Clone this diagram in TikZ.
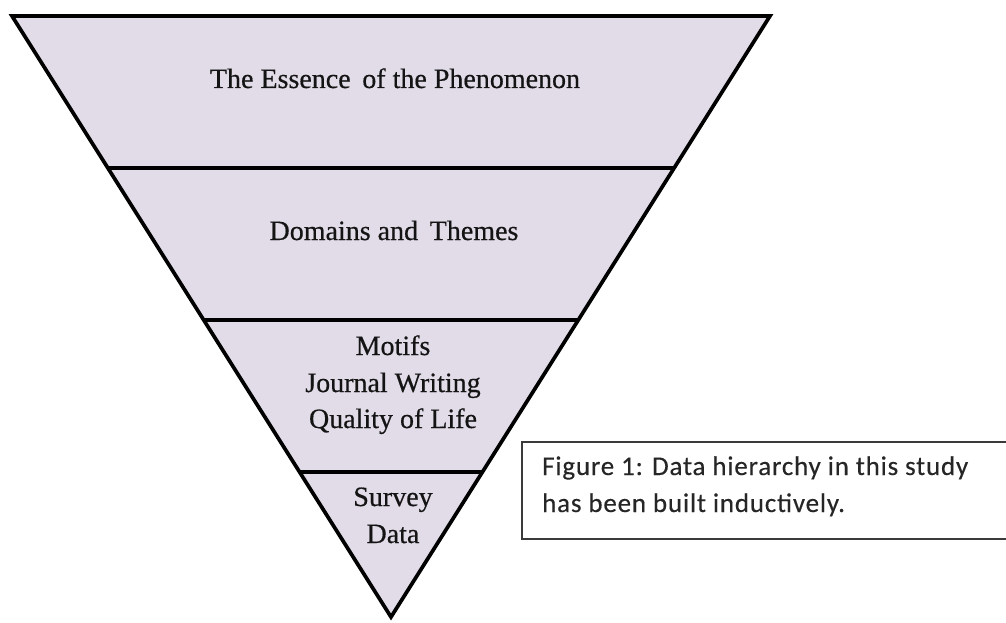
\documentclass[tikz,border=0pt]{standalone}
\usepackage{fontspec}
\setmainfont{Liberation Serif}
\newfontfamily\heavyserif[FakeBold=0.5]{Liberation Serif}
\newfontfamily\capfont[LetterSpace=3,FakeBold=0.3]{Carlito}
\usetikzlibrary{calc}
\definecolor{lav}{HTML}{E2DCE9}
\definecolor{boxline}{HTML}{3A3A3A}
\tikzset{
  layer/.style={draw=black, line width=3.7pt, line join=miter, fill=lav},
  divider/.style={draw=black, line width=3.7pt},
  lbl/.style={inner sep=0pt, anchor=base, font=\heavyserif\fontsize{28}{32}\selectfont, text=black!92},
  caplbl/.style={inner sep=0pt, anchor=base west, font=\capfont\fontsize{27}{30}\selectfont, text=black!85},
  capbox/.style={draw=boxline, line width=2pt, fill=white}
}
\begin{document}
\begin{tikzpicture}[x=1pt,y=-1pt]
\useasboundingbox (0,0) rectangle (1006,623);
\clip (0,0) rectangle (1006,623);
\coordinate (TL) at (12,16);
\coordinate (TR) at (770,16);
\coordinate (B) at (391,617);
\path[layer] (TL) -- (TR) -- (B) -- cycle;
\coordinate (L1) at ($(TL)!0.2529!(B)$);
\coordinate (R1) at ($(TR)!0.2529!(B)$);
\coordinate (L2) at ($(TL)!0.5058!(B)$);
\coordinate (R2) at ($(TR)!0.5058!(B)$);
\coordinate (L3) at ($(TL)!0.7587!(B)$);
\coordinate (R3) at ($(TR)!0.7587!(B)$);
\draw[divider] (L1) -- (R1);
\draw[divider] (L2) -- (R2);
\draw[divider] (L3) -- (R3);
\node[lbl] (ess) at (395,88) {The Essence\, of the Phenomenon};
\node[lbl] (dom) at (394,240) {Domains and\, Themes};
\node[lbl] (m1) at (393,355) {Motifs};
\node[lbl] (m2) at (393,392) {Journal Writing};
\node[lbl] (m3) at (393,428) {Quality of Life};
\node[lbl] (s1) at (393,506) {Survey};
\node[lbl] (s2) at (393,543) {Data};
\path[capbox] (1020,442) -- (522,442) -- (522,539) -- (1020,539);
\node[caplbl] (c1) at (542,475) {Figure 1: Data hierarchy in this study};
\node[caplbl] (c2) at (542,512) {has been built inductively.};
\end{tikzpicture}
\end{document}
